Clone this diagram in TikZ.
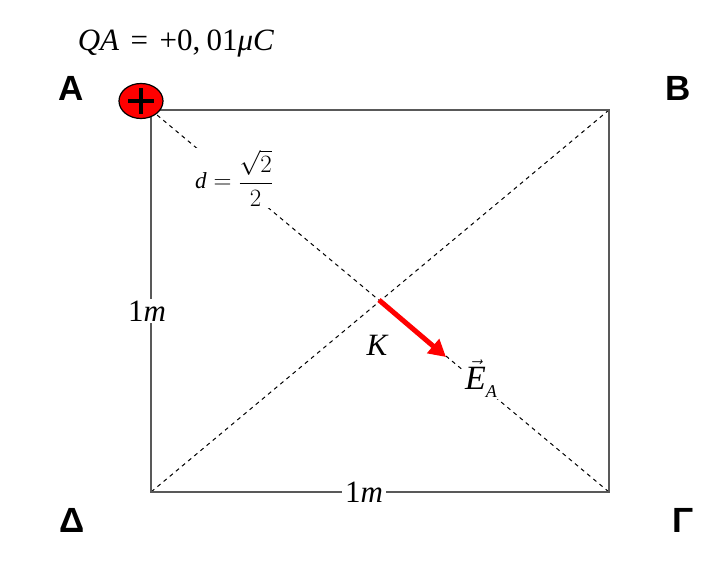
\documentclass[tikz,border=0pt]{standalone}
\usepackage{fontspec}
\setmainfont{Liberation Serif}
\newfontfamily\lsans{Liberation Sans}
\usetikzlibrary{arrows.meta,shapes.geometric}
\tikzset{
  frame/.style={draw=black!65, line width=1.4pt},
  diag/.style={draw=black, line width=1pt, dash pattern=on 4pt off 4pt},
  corner/.style={font=\lsans\bfseries\fontsize{35}{38}\selectfont, inner sep=0pt},
  lbl/.style={fill=white, inner sep=2pt},
}
\begin{document}
\begin{tikzpicture}[x=1pt,y=-1pt]
\useasboundingbox[fill=white] (0,0) rectangle (725,588);
\coordinate (A) at (151,110);
\coordinate (B) at (609,110);
\coordinate (G) at (609,492);
\coordinate (D) at (151,492);
\coordinate (K) at (379,300);
\coordinate (tip) at (446,357);
\draw[diag] (A) -- (G);
\draw[diag] (B) -- (D);
\draw[frame] (A) -- (B) -- (G) -- (D) -- cycle;
% labels on lines
\node[lbl, font=\fontsize{23}{25}\selectfont] (dl) at (234,178) {$\mbox{\itshape d} = \displaystyle\frac{\sqrt{2}}{2}$};
\node[lbl, font=\fontsize{31}{33}\selectfont, inner sep=2pt] (m1) at (147,311) {1\textit{m}};
\node[lbl, font=\fontsize{31}{33}\selectfont, inner sep=3pt] (m2) at (364,492) {1\textit{m}};
\node[lbl, font=\fontsize{34}{36}\selectfont, inner sep=2pt, anchor=base west] (E) at (463,389) {$\vec{\mbox{\itshape E}}$\raisebox{-8pt}{\fontsize{18}{18}\selectfont\itshape A}};
\node[font=\fontsize{31}{33}\selectfont\itshape] (Kl) at (377,345) {K};
% field arrow
\draw[red, line width=5pt, -{Triangle[length=17pt,width=18pt]}] (K) -- (tip);
% charge
\node[ellipse, draw=black, line width=1.2pt, fill=red, minimum width=44pt, minimum height=35pt, inner sep=0pt] (q) at (141,101) {};
\draw[line width=4pt] ([xshift=-13pt]q.center) -- ([xshift=13pt]q.center);
\draw[line width=4pt] ([yshift=-13pt]q.center) -- ([yshift=13pt]q.center);
% text
\node[font=\fontsize{31}{33}\selectfont] (QA) at (176,44) {\textit{QA}\hspace{0.12em} = \hspace{0.12em}+0,\hspace{0.2em}01\textit{μC}};
\node[corner] (lA) at (71,88) {Α};
\node[corner] (lB) at (678,88) {Β};
\node[corner] (lD) at (72,520) {Δ};
\node[corner] (lG) at (683,520) {Γ};
\end{tikzpicture}
\end{document}
